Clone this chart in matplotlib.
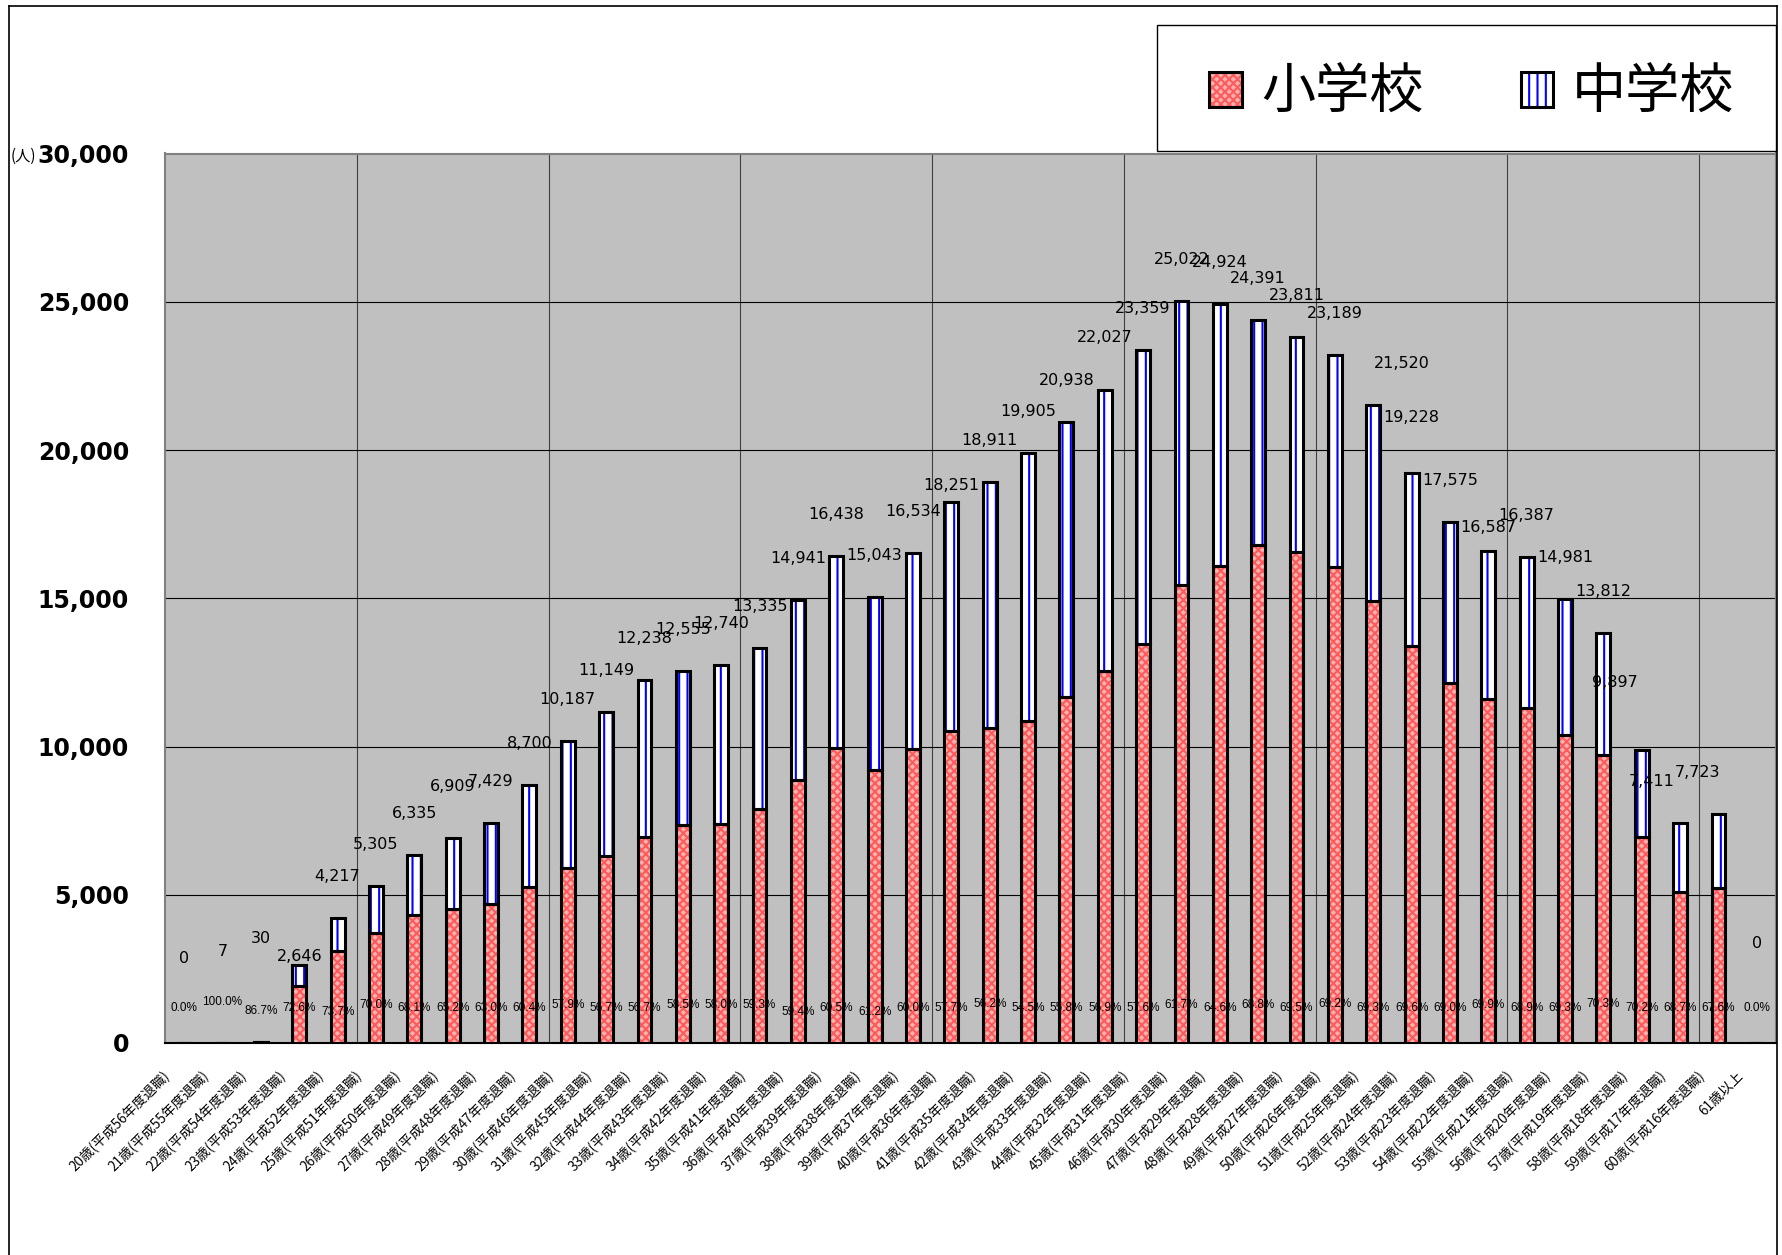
import matplotlib
matplotlib.use('Agg')
import matplotlib.pyplot as plt
from matplotlib.patches import Patch, Rectangle
from matplotlib.lines import Line2D
from matplotlib.legend_handler import HandlerTuple
from matplotlib.transforms import ScaledTranslation
from matplotlib.ticker import FuncFormatter
import numpy as np

# 日本語フォント
plt.rcParams['font.family'] = ['Noto Sans CJK JP', 'DejaVu Sans']
plt.rcParams['hatch.linewidth'] = 1.5

# 年齢区分
ages = [
    '20歳(平成56年度退職)', '21歳(平成55年度退職)', '22歳(平成54年度退職)',
    '23歳(平成53年度退職)', '24歳(平成52年度退職)', '25歳(平成51年度退職)',
    '26歳(平成50年度退職)', '27歳(平成49年度退職)', '28歳(平成48年度退職)',
    '29歳(平成47年度退職)', '30歳(平成46年度退職)', '31歳(平成45年度退職)',
    '32歳(平成44年度退職)', '33歳(平成43年度退職)', '34歳(平成42年度退職)',
    '35歳(平成41年度退職)', '36歳(平成40年度退職)', '37歳(平成39年度退職)',
    '38歳(平成38年度退職)', '39歳(平成37年度退職)', '40歳(平成36年度退職)',
    '41歳(平成35年度退職)', '42歳(平成34年度退職)', '43歳(平成33年度退職)',
    '44歳(平成32年度退職)', '45歳(平成31年度退職)', '46歳(平成30年度退職)',
    '47歳(平成29年度退職)', '48歳(平成28年度退職)', '49歳(平成27年度退職)',
    '50歳(平成26年度退職)', '51歳(平成25年度退職)', '52歳(平成24年度退職)',
    '53歳(平成23年度退職)', '54歳(平成22年度退職)', '55歳(平成21年度退職)',
    '56歳(平成20年度退職)', '57歳(平成19年度退職)', '58歳(平成18年度退職)',
    '59歳(平成17年度退職)', '60歳(平成16年度退職)', '61歳以上',
]

# 合計人数（小学校＋中学校）
totals = [
    0, 7, 30, 2646, 4217, 5305, 6335, 6909, 7429, 8700,
    10187, 11149, 12238, 12555, 12740, 13335, 14941, 16438, 15043, 16534,
    18251, 18911, 19905, 20938, 22027, 23359, 25022, 24924, 24391, 23811,
    23189, 21520, 19228, 17575, 16587, 16387, 14981, 13812, 9897, 7411,
    7723, 0,
]

# 小学校の占める割合(%)
elem_share = [
    0.0, 100.0, 86.7, 72.6, 73.7, 70.0, 68.1, 65.2, 63.0, 60.4,
    57.9, 56.7, 56.7, 58.5, 58.0, 59.3, 59.4, 60.5, 61.2, 60.0,
    57.7, 56.2, 54.5, 55.8, 56.9, 57.6, 61.7, 64.6, 68.8, 69.5,
    69.2, 69.3, 69.6, 69.0, 69.9, 68.9, 69.3, 70.3, 70.2, 68.7,
    67.6, 0.0,
]

elem = [round(t * p / 100) for t, p in zip(totals, elem_share)]
junior = [t - e for t, e in zip(totals, elem)]

# ラベル位置の微調整（既定: 棒の上 1400 人分）
label_dy = {0: 2840, 1: 3070, 2: 3500, 3: 270, 7: 1730, 20: 540, 24: 1770,
            32: 1880, 34: 800, 38: 2270, 41: 3340}
label_dx = {31: 0.75, 38: -0.7, 39: -0.75, 40: -0.55}
# 割合ラベルの高さ（既定 1180）
pct_y = {1: 1380, 2: 1070, 4: 1050, 5: 1280, 10: 1280, 13: 1280, 14: 1280, 15: 1280,
         16: 1060, 18: 1060, 21: 1300, 26: 1280, 28: 1280, 30: 1300, 34: 1280, 37: 1300}

W, H = 1783, 1255
fig = plt.figure(figsize=(W / 100, H / 100), dpi=100)
ax = fig.add_axes([165 / W, 1 - 1043 / H, 1611 / W, 889.5 / H])
ax.set_facecolor('#c0c0c0')

x = np.arange(len(ages))
bw = 0.36
RED_FACE, RED_HATCH = '#ffb0b0', '#ff5a5a'

ax.bar(x, elem, bw, color=RED_FACE, edgecolor=RED_HATCH, hatch='xxxx', linewidth=0, zorder=3)
ax.bar(x, junior, bw, bottom=elem, color='white', edgecolor='#0000ff', hatch='||', linewidth=0, zorder=3)
ax.bar(x, elem, bw, fill=False, edgecolor='black', linewidth=2.2, zorder=4)
ax.bar(x, junior, bw, bottom=elem, fill=False, edgecolor='black', linewidth=2.2, zorder=4)

# 合計人数
for i, t in enumerate(totals):
    ax.text(i + label_dx.get(i, 0), t + label_dy.get(i, 1400), f'{t:,}',
            ha='center', va='center', fontsize=11.5, family='DejaVu Sans', zorder=6)

# 小学校の割合（塗りの上、枠線の下）
for i, p in enumerate(elem_share):
    ax.text(i, pct_y.get(i, 1180), f'{p:.1f}%', ha='center', va='center', fontsize=8.5,
            family='Liberation Sans', zorder=3.5)

ax.set_xlim(-0.5, len(ages) - 0.5)
ax.set_ylim(0, 30000)
ax.set_axisbelow(True)

ax.set_yticks(range(0, 30001, 5000))
ax.yaxis.set_major_formatter(FuncFormatter(lambda v, _: f'{int(v):,}'))
ax.tick_params(axis='y', length=0, pad=26, labelsize=17)
for lbl in ax.get_yticklabels():
    lbl.set_fontweight('bold')
    lbl.set_family('DejaVu Sans')
ax.yaxis.grid(True, color='black', linewidth=0.8)

ax.set_xticks(x)
ax.set_xticklabels(ages, rotation=45, ha='right', va='center', rotation_mode='anchor', fontsize=9.8)
ax.tick_params(axis='x', which='major', length=0, pad=22)
shift = ScaledTranslation(-16 / 100, 0, fig.dpi_scale_trans)
for lbl in ax.get_xticklabels():
    lbl.set_transform(lbl.get_transform() + shift)

ax.set_xticks(np.arange(4.5, len(ages) - 1, 5), minor=True)
ax.tick_params(axis='x', which='minor', length=0)
ax.xaxis.grid(True, which='minor', color='#404040', linewidth=0.8)

for side in ['top', 'right', 'left']:
    ax.spines[side].set_color('#808080')
    ax.spines[side].set_linewidth(1.5)
ax.spines['bottom'].set_color('black')
ax.spines['bottom'].set_linewidth(1.5)

fig.text(11 / W, 1 - 156 / H, '(人)', fontsize=11, ha='left', va='center')

# 凡例
edge = Patch(fill=False, edgecolor='black', linewidth=2.2)
red_fill = Patch(facecolor=RED_FACE, edgecolor=RED_HATCH, hatch='xxxx', linewidth=0)
blue_fill = Patch(facecolor='white', edgecolor='#0000ff', hatch='||', linewidth=0)
fig.legend(handles=[(red_fill, edge), (blue_fill, edge)], labels=['小学校', '中学校'],
           loc='center', bbox_to_anchor=(1472 / W, 1 - 93 / H), ncol=2, frameon=False,
           fontsize=39, handlelength=0.6, handleheight=0.63, handletextpad=0.35,
           columnspacing=1.8, handler_map={tuple: HandlerTuple(ndivide=1)})
fig.add_artist(Rectangle((1157 / W, 1 - 151 / H), 619 / W, 126 / H, transform=fig.transFigure,
                         fill=False, edgecolor='black', linewidth=1))

# 外枠
for xs, ys in [([9, 9], [0, H - 6]), ([9, 1777], [H - 6, H - 6]), ([1777, 1777], [0, H - 6])]:
    fig.add_artist(Line2D([v / W for v in xs], [v / H for v in ys], transform=fig.transFigure,
                          color='black', linewidth=1.2))

fig.savefig('out.png', dpi=100)
